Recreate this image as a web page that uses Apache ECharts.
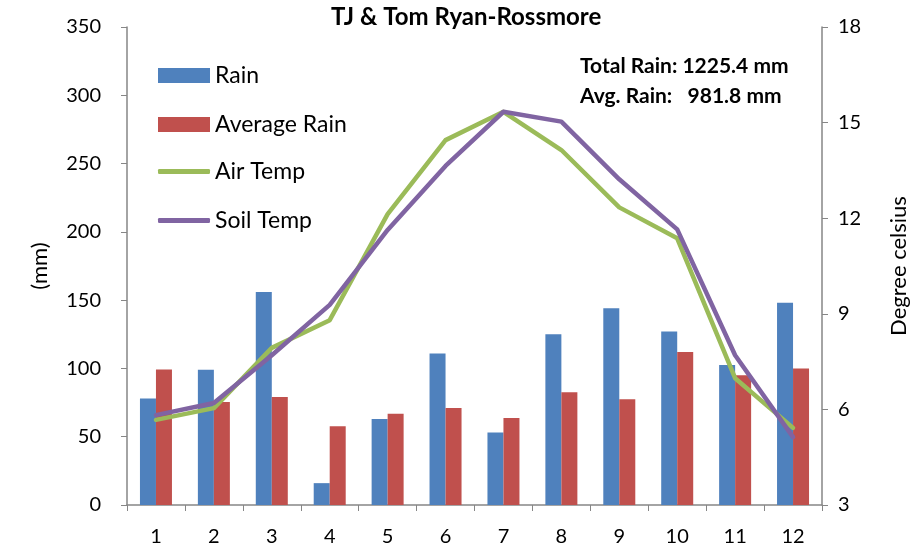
<!DOCTYPE html>
<html>
<head>
<meta charset="utf-8">
<script src="https://cdn.jsdelivr.net/npm/echarts@6/dist/echarts.min.js"></script>
<style>html,body{margin:0;padding:0;background:#fff}#c{width:910px;height:553px}</style>
</head>
<body>
<div id="c"></div>
<script>
const categories = ['1','2','3','4','5','6','7','8','9','10','11','12'];
const rain = [78, 99, 156, 16, 63, 111, 53, 125, 144, 127, 102.5, 148];
const avgRain = [99.3, 75.4, 79, 57.6, 66.8, 71, 63.7, 82.5, 77.4, 112, 95, 100];
const airTemp = [5.67, 6.04, 7.93, 8.8, 12.13, 14.45, 15.34, 14.14, 12.34, 11.37, 6.98, 5.42];
const soilTemp = [5.82, 6.2, 7.7, 9.28, 11.63, 13.64, 15.34, 15.03, 13.22, 11.65, 7.7, 5.13];
const titleText = 'TJ & Tom Ryan-Rossmore';
const noteLines = ['Total Rain: 1225.4 mm', 'Avg. Rain:   981.8 mm'];

const FONT = 'Lato, "Noto Sans", sans-serif';
const axisColor = '#868686';
const chart = echarts.init(document.getElementById('c'), null, {renderer: 'canvas'});
chart.setOption({
  animation: false,
  textStyle: {fontFamily: FONT},
  title: {
    text: titleText, left: 331, top: 5, padding: 0,
    textStyle: {fontFamily: FONT, fontSize: 24, fontWeight: 'bold', color: '#000'}
  },
  legend: [
    {
      orient: 'vertical', left: 158, top: 64, padding: 0,
      itemWidth: 52, itemHeight: 15, itemGap: 26, icon: 'rect',
      textStyle: {fontFamily: FONT, fontSize: 23, color: '#000', lineHeight: 22},
      data: ['Rain', 'Average Rain']
    },
    {
      orient: 'vertical', left: 158, top: 160, padding: 0,
      itemWidth: 52, itemHeight: 5, itemGap: 26, icon: 'roundRect',
      textStyle: {fontFamily: FONT, fontSize: 23, color: '#000', lineHeight: 22},
      data: ['Air Temp', 'Soil Temp']
    }
  ],
  graphic: [
    {type: 'text', left: 580, top: 56, style: {text: noteLines[0], font: 'bold 21px ' + FONT, fill: '#000'}},
    {type: 'text', left: 580, top: 86, style: {text: noteLines[1], font: 'bold 21px ' + FONT, fill: '#000'}}
  ],
  grid: {left: 127, right: 88, top: 27, bottom: 48, containLabel: false, outerBoundsMode: 'none'},
  xAxis: {
    type: 'category', data: categories, boundaryGap: true,
    axisLine: {lineStyle: {color: axisColor, width: 1.5}},
    axisTick: {show: true, length: 6, lineStyle: {color: axisColor}},
    axisLabel: {fontSize: 20, color: '#000', margin: 22, fontFamily: FONT}
  },
  yAxis: [
    {
      type: 'value', min: 0, max: 350, interval: 50,
      name: '(mm)', nameLocation: 'middle', nameGap: 76, nameRotate: 90, nameMoveOverlap: false,
      nameTextStyle: {fontSize: 22, color: '#000', fontFamily: FONT},
      axisLine: {show: true, lineStyle: {color: axisColor, width: 1.5}},
      axisTick: {show: true, length: 6, lineStyle: {color: axisColor}},
      axisLabel: {fontSize: 20, color: '#000', margin: 26, fontFamily: FONT},
      splitLine: {show: false}
    },
    {
      type: 'value', min: 3, max: 18, interval: 3, position: 'right',
      name: 'Degree celsius', nameLocation: 'middle', nameGap: 66, nameRotate: 90, nameMoveOverlap: false,
      nameTextStyle: {fontSize: 22, color: '#000', fontFamily: FONT},
      axisLine: {show: true, lineStyle: {color: axisColor, width: 1.5}},
      axisTick: {show: true, length: 6, lineStyle: {color: axisColor}},
      axisLabel: {fontSize: 20, color: '#000', margin: 16, fontFamily: FONT},
      splitLine: {show: false}
    }
  ],
  series: [
    {name: 'Rain', type: 'bar', data: rain, barWidth: 16, barGap: '0%', itemStyle: {color: '#4F81BD'}},
    {name: 'Average Rain', type: 'bar', data: avgRain, barWidth: 16, barGap: '0%', itemStyle: {color: '#C0504D'}},
    {name: 'Air Temp', type: 'line', yAxisIndex: 1, data: airTemp, symbol: 'none', showSymbol: false,
     lineStyle: {color: '#9BBB59', width: 4.5, cap: 'round', join: 'round'}, itemStyle: {color: '#9BBB59'}},
    {name: 'Soil Temp', type: 'line', yAxisIndex: 1, data: soilTemp, symbol: 'none', showSymbol: false,
     lineStyle: {color: '#8064A2', width: 4.5, cap: 'round', join: 'round'}, itemStyle: {color: '#8064A2'}}
  ]
});
</script>
</body>
</html>
